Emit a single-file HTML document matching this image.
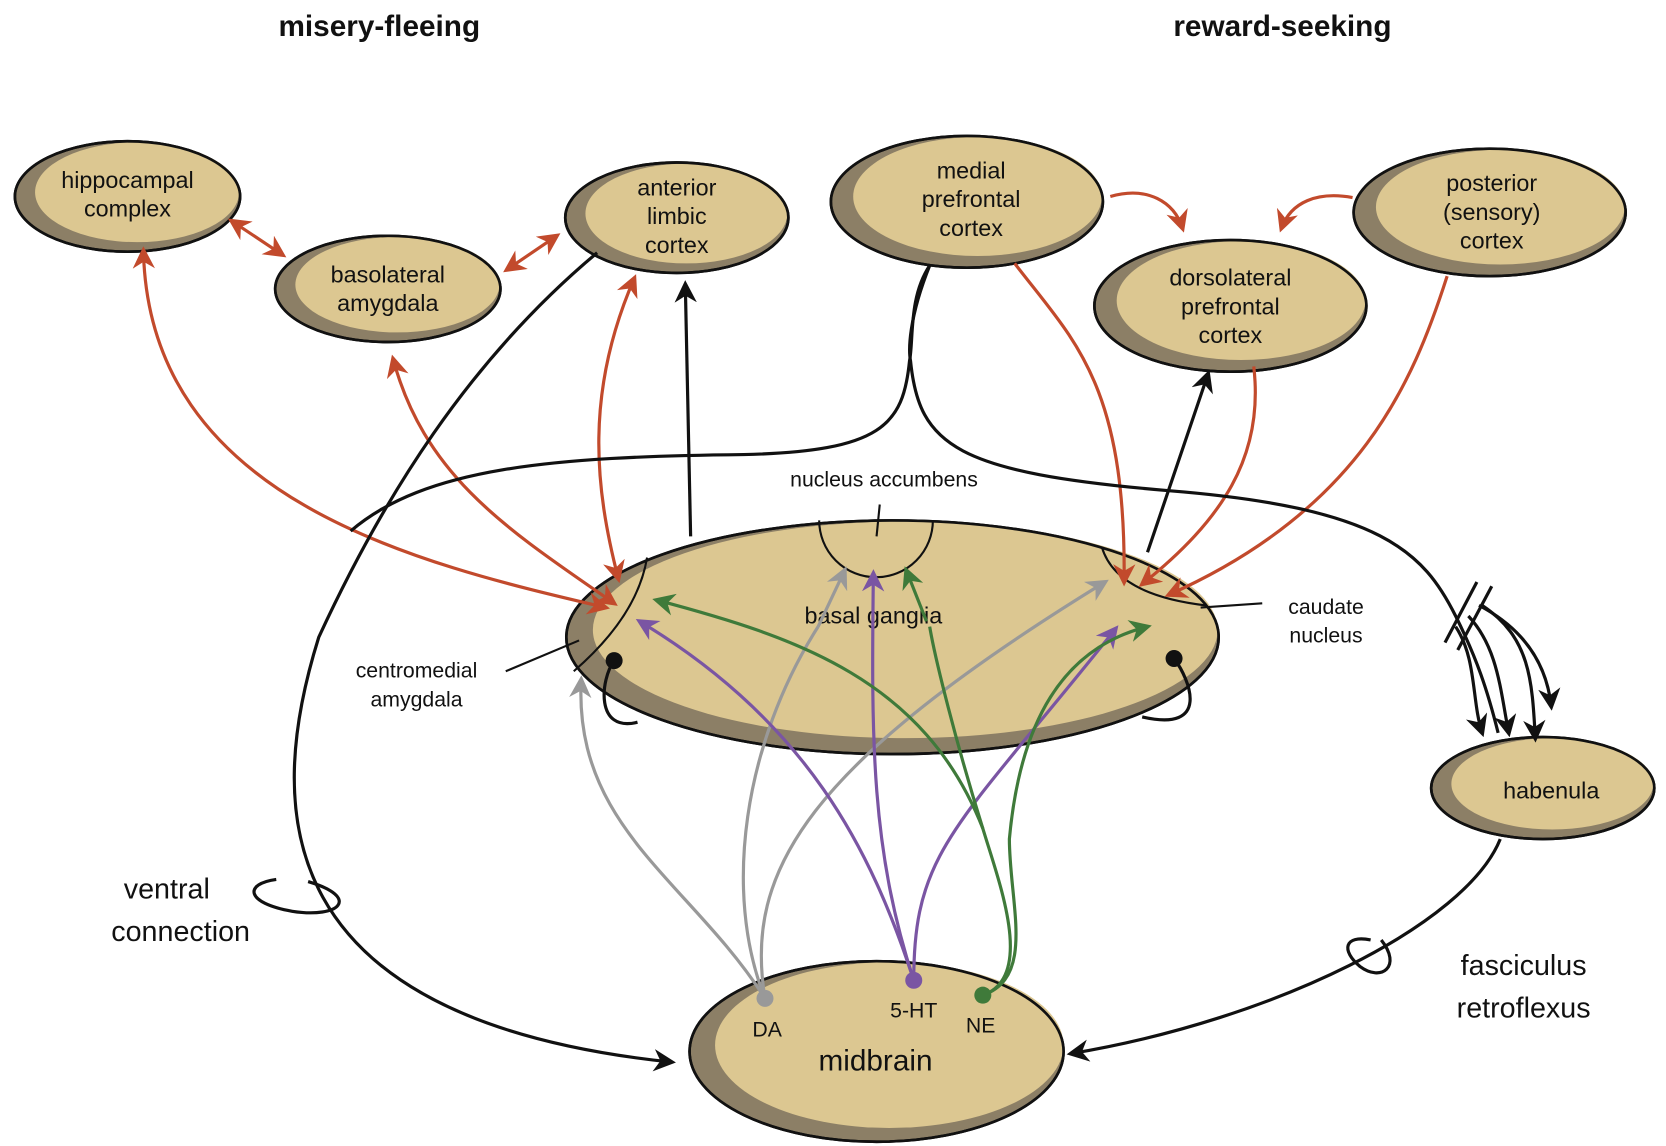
<!DOCTYPE html>
<html><head><style>
html,body{margin:0;padding:0;background:#fff}
svg{display:block}
text{font-family:"Liberation Sans",sans-serif;fill:#111}
</style></head><body>
<svg width="1666" height="1146" viewBox="0 0 1568 1079" preserveAspectRatio="none" xmlns="http://www.w3.org/2000/svg">
<defs>
<marker id="ar" viewBox="0 0 10 10" refX="8" refY="5" markerWidth="7" markerHeight="7" orient="auto-start-reverse"><path d="M0,0 L10,5 L0,10 L3,5z" fill="#c24a2c"/></marker>
<marker id="ab" viewBox="0 0 10 10" refX="8" refY="5" markerWidth="7" markerHeight="7" orient="auto-start-reverse"><path d="M0,0 L10,5 L0,10 L3,5z" fill="#111"/></marker>
<marker id="ag" viewBox="0 0 10 10" refX="8" refY="5" markerWidth="7" markerHeight="7" orient="auto"><path d="M0,0 L10,5 L0,10 L3,5z" fill="#999"/></marker>
<marker id="ap" viewBox="0 0 10 10" refX="8" refY="5" markerWidth="7" markerHeight="7" orient="auto"><path d="M0,0 L10,5 L0,10 L3,5z" fill="#7a55a3"/></marker>
<marker id="agr" viewBox="0 0 10 10" refX="8" refY="5" markerWidth="7" markerHeight="7" orient="auto"><path d="M0,0 L10,5 L0,10 L3,5z" fill="#3f7a3a"/></marker>
</defs>

<text x="357" y="34" font-size="28" font-weight="bold" text-anchor="middle">misery-fleeing</text>
<text x="1207" y="34" font-size="28" font-weight="bold" text-anchor="middle">reward-seeking</text>

<g stroke="#111" stroke-width="2.5">
<ellipse cx="120" cy="185" rx="106" ry="52" fill="#8c7f66"/>
<ellipse cx="129" cy="181" rx="96" ry="47" fill="#dcc791" stroke="none"/>
<ellipse cx="120" cy="185" rx="106" ry="52" fill="none"/>
<ellipse cx="365" cy="272" rx="106" ry="50" fill="#8c7f66"/>
<ellipse cx="374" cy="268" rx="96" ry="45" fill="#dcc791" stroke="none"/>
<ellipse cx="365" cy="272" rx="106" ry="50" fill="none"/>
<ellipse cx="637" cy="205" rx="105" ry="52" fill="#8c7f66"/>
<ellipse cx="646" cy="201" rx="95" ry="47" fill="#dcc791" stroke="none"/>
<ellipse cx="637" cy="205" rx="105" ry="52" fill="none"/>
<ellipse cx="910" cy="190" rx="128" ry="62" fill="#8c7f66"/>
<ellipse cx="920" cy="185" rx="117" ry="56" fill="#dcc791" stroke="none"/>
<ellipse cx="910" cy="190" rx="128" ry="62" fill="none"/>
<ellipse cx="1158" cy="288" rx="128" ry="62" fill="#8c7f66"/>
<ellipse cx="1168" cy="283" rx="117" ry="56" fill="#dcc791" stroke="none"/>
<ellipse cx="1158" cy="288" rx="128" ry="62" fill="none"/>
<ellipse cx="1402" cy="200" rx="128" ry="60" fill="#8c7f66"/>
<ellipse cx="1412" cy="195" rx="117" ry="54" fill="#dcc791" stroke="none"/>
<ellipse cx="1402" cy="200" rx="128" ry="60" fill="none"/>
<ellipse cx="840" cy="600" rx="307" ry="110" fill="#8c7f66"/>
<ellipse cx="852" cy="593" rx="294" ry="102" fill="#dcc791" stroke="none"/>
<ellipse cx="840" cy="600" rx="307" ry="110" fill="none"/>
<ellipse cx="1452" cy="742" rx="105" ry="48" fill="#8c7f66"/>
<ellipse cx="1461" cy="738" rx="95" ry="43" fill="#dcc791" stroke="none"/>
<ellipse cx="1452" cy="742" rx="105" ry="48" fill="none"/>
<ellipse cx="825" cy="990" rx="176" ry="85" fill="#8c7f66"/>
<ellipse cx="837" cy="984" rx="164" ry="78" fill="#dcc791" stroke="none"/>
<ellipse cx="825" cy="990" rx="176" ry="85" fill="none"/>
</g>

<g font-size="22" text-anchor="middle">
<text x="120" y="177">hippocampal</text><text x="120" y="204">complex</text>
<text x="365" y="266">basolateral</text><text x="365" y="293">amygdala</text>
<text x="637" y="184">anterior</text><text x="637" y="211">limbic</text><text x="637" y="238">cortex</text>
<text x="914" y="168">medial</text><text x="914" y="195">prefrontal</text><text x="914" y="222">cortex</text>
<text x="1158" y="269">dorsolateral</text><text x="1158" y="296">prefrontal</text><text x="1158" y="323">cortex</text>
<text x="1404" y="180">posterior</text><text x="1404" y="207">(sensory)</text><text x="1404" y="234">cortex</text>
<text x="1460" y="752">habenula</text>
<text x="822" y="587">basal ganglia</text>
<text x="832" y="458" font-size="20">nucleus accumbens</text>
<text x="392" y="638" font-size="20">centromedial</text><text x="392" y="665" font-size="20">amygdala</text>
<text x="1248" y="578" font-size="20">caudate</text><text x="1248" y="605" font-size="20">nucleus</text>
<text x="824" y="1008" font-size="28">midbrain</text>
<text x="722" y="976" font-size="20">DA</text>
<text x="860" y="958" font-size="20">5-HT</text>
<text x="923" y="972" font-size="20">NE</text>
<text x="157" y="846" font-size="27">ventral</text><text x="170" y="886" font-size="27">connection</text>
<text x="1434" y="918" font-size="27">fasciculus</text><text x="1434" y="958" font-size="27">retroflexus</text>
</g>

<g fill="none" stroke="#111" stroke-width="2">
<path d="M771,490 A52,52 0 0 0 878,490"/>
<line x1="825" y1="505" x2="828" y2="475"/>
<path d="M609,525 Q600,580 540,632"/>
<line x1="476" y1="632" x2="545" y2="603"/>
<path d="M1037,515 Q1050,560 1135,570"/>
<line x1="1130" y1="572" x2="1188" y2="568"/>
</g>

<!-- red arrows -->
<g fill="none" stroke="#c24a2c" stroke-width="3">
<path d="M218,208 L266,240" marker-start="url(#ar)" marker-end="url(#ar)"/>
<path d="M477,254 L524,222" marker-start="url(#ar)" marker-end="url(#ar)"/>
<path d="M135,236 C140,470 390,530 570,572" marker-start="url(#ar)" marker-end="url(#ar)"/>
<path d="M370,338 C400,450 480,500 578,568" marker-start="url(#ar)" marker-end="url(#ar)"/>
<path d="M597,262 C550,370 560,460 582,545" marker-start="url(#ar)" marker-end="url(#ar)"/>
<path d="M1045,185 C1080,175 1105,190 1113,215" marker-end="url(#ar)"/>
<path d="M1273,186 C1240,180 1215,190 1206,215" marker-end="url(#ar)"/>
<path d="M955,248 C1010,320 1060,360 1058,548" marker-end="url(#ar)"/>
<path d="M1180,345 C1190,430 1150,490 1075,550" marker-end="url(#ar)"/>
<path d="M1362,260 C1330,360 1280,480 1100,560" marker-end="url(#ar)"/>
</g>

<!-- black lines -->
<g fill="none" stroke="#111" stroke-width="3">
<path d="M650,505 L645,268" marker-end="url(#ab)"/>
<path d="M1080,520 L1137,352" marker-end="url(#ab)"/>
<path d="M562,238 C440,340 360,470 300,600 C250,760 250,960 632,1000" marker-end="url(#ab)"/>
<path d="M875,250 C855,280 860,320 856,340 C850,400 830,425 700,428 C520,430 400,440 330,500"/>
<path d="M875,250 C855,300 855,330 857,340 C865,420 900,445 1100,462 C1300,478 1340,520 1370,580 C1390,620 1400,650 1410,690"/>
<path d="M1370,590 C1390,620 1385,660 1395,690" marker-end="url(#ab)"/>
<path d="M1382,580 C1410,610 1412,650 1420,690" marker-end="url(#ab)"/>
<path d="M1395,570 C1440,600 1442,640 1445,695" marker-end="url(#ab)"/>
<path d="M1392,570 C1430,590 1455,620 1460,665" marker-end="url(#ab)"/>
<line x1="1360" y1="605" x2="1390" y2="548"/>
<line x1="1372" y1="612" x2="1404" y2="552"/>
<path d="M1412,790 C1380,870 1200,960 1008,992" marker-end="url(#ab)"/>
<path d="M578,622 C565,640 560,690 600,680"/>
<path d="M1105,620 C1120,640 1140,690 1075,675"/>
<path d="M290,830 C340,845 320,865 275,858 C230,850 230,832 260,828"/>
<path d="M1300,885 C1320,910 1300,925 1280,910 C1262,895 1265,880 1290,885"/>
</g>
<circle cx="578" cy="622" r="8" fill="#111"/>
<circle cx="1105" cy="620" r="8" fill="#111"/>

<!-- gray -->
<g fill="none" stroke="#999" stroke-width="3">
<path d="M720,940 C650,830 540,780 547,640" marker-end="url(#ag)"/>
<path d="M720,940 C680,840 700,700 770,590" />
<path d="M770,590 L795,537" marker-end="url(#ag)"/>
<path d="M720,940 C700,820 760,720 1040,548" marker-end="url(#ag)"/>
</g>
<circle cx="720" cy="940" r="8" fill="#999"/>
<!-- purple -->
<g fill="none" stroke="#7a55a3" stroke-width="3">
<path d="M860,923 C820,800 760,680 602,585" marker-end="url(#ap)"/>
<path d="M860,923 C820,800 820,700 822,540" marker-end="url(#ap)"/>
<path d="M860,923 C860,800 900,780 1050,592" marker-end="url(#ap)"/>
</g>
<circle cx="860" cy="923" r="8" fill="#7a55a3"/>
<!-- green -->
<g fill="none" stroke="#3f7a3a" stroke-width="3">
<path d="M925,937 C975,920 940,830 925,780 C870,640 750,600 618,565" marker-end="url(#agr)"/>
<path d="M925,780 C900,700 880,620 875,590"/>
<path d="M872,585 L853,537" marker-end="url(#agr)"/>
<path d="M925,937 C975,920 950,850 950,790 C960,680 1000,610 1080,590" marker-end="url(#agr)"/>
</g>
<circle cx="925" cy="937" r="8" fill="#3f7a3a"/>
</svg>
</body></html>
